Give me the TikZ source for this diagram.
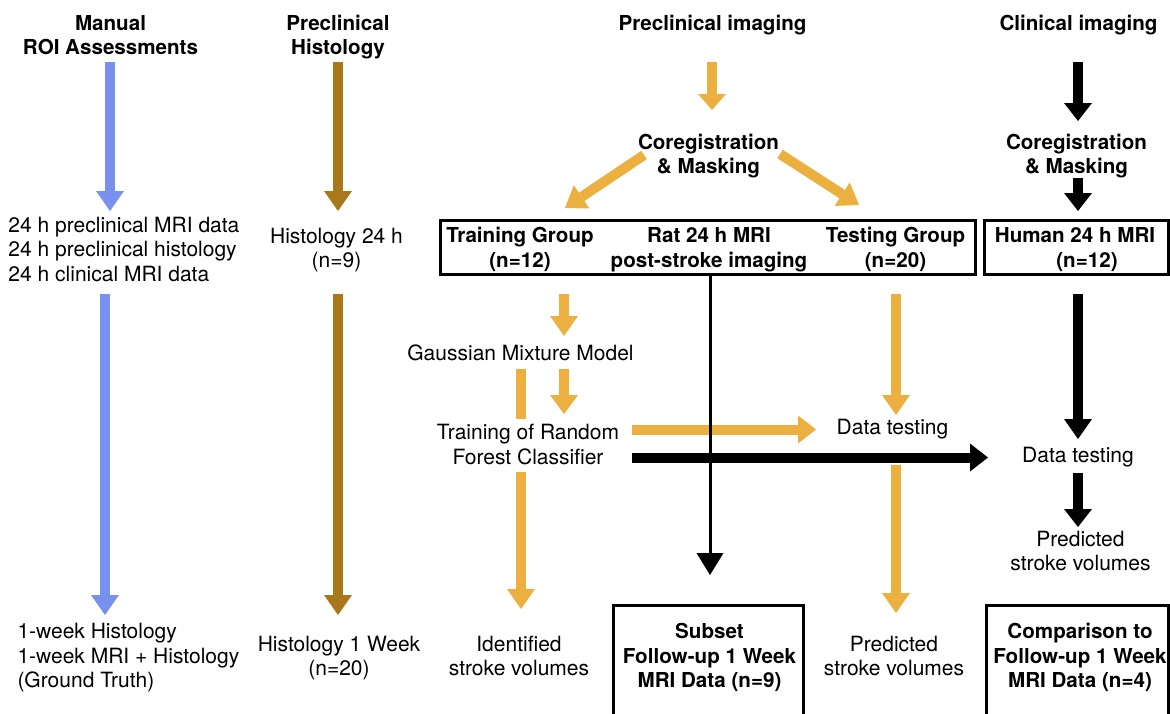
\documentclass[tikz,border=0pt]{standalone}
\usepackage{fontspec}
\setmainfont{TeX Gyre Heros}
\usetikzlibrary{arrows.meta}
\definecolor{oblue}{HTML}{7891EE}
\definecolor{obrown}{HTML}{A8781A}
\definecolor{oorange}{HTML}{ECB040}
\tikzset{
  txt/.style={font=\fontsize{21}{24.5}\selectfont, inner sep=0pt, align=center, anchor=base},
  btxt/.style={font=\fontsize{20.6}{24.5}\selectfont\bfseries, inner sep=0pt, align=center, anchor=base},
  frame/.style={draw=black, line width=3pt, inner sep=0pt, fill=none},
  bigarr/.style={line width=10pt, -{Triangle[width=28pt,length=#1,line width=0pt]}},
  bigarr/.default=20pt,
  thinarr/.style={line width=3pt, -{Triangle[width=27pt,length=22pt,line width=0pt]}}
}
\begin{document}
\begin{tikzpicture}[x=1pt,y=-1pt]
\useasboundingbox (0,0) rectangle (1170,713);

% headers (base anchor = baseline of the last line)
\node[btxt] (hM) at (110.5,54.5) {Manual\\ROI Assessments};
\node[btxt] (hPH) at (338,54.5) {Preclinical\\Histology};
\node[btxt] (hPI) at (712.5,30.5) {Preclinical imaging};
\node[btxt] (hCI) at (1078.5,30.5) {Clinical imaging};
\node[btxt] (coregP) at (708.5,173.5) {Coregistration\\\& Masking};
\node[btxt] (coregC) at (1076.5,173.5) {Coregistration\\\& Masking};

% row 24 h
\node[txt, anchor=base west, align=left] (leftA) at (8.3,281) {24 h preclinical MRI data\\24 h preclinical histology\\24 h clinical MRI data};
\node[txt] (hist24) at (336.5,267.5) {Histology 24 h\\(n=9)};
\node[frame, minimum width=534.5pt, minimum height=54.3pt] (ratbox) at (707.75,247.15) {};
\node[btxt] (trainG) at (520,267.2) {Training Group\\(n=12)};
\node[btxt] (ratT) at (709,267.2) {Rat 24 h MRI\\post-stroke imaging};
\node[btxt] (testG) at (895.5,267.2) {Testing Group\\(n=20)};
\node[frame, minimum width=184pt, minimum height=54.3pt] (humbox) at (1076.5,247.15) {};
\node[btxt] (humT) at (1075,267.2) {Human 24 h MRI\\\hspace*{24pt}(n=12)};

% middle
\node[txt] (gmm) at (520.5,360.7) {Gaussian Mixture Model};
\node[txt] (rf) at (528,464) {Training of Random\\Forest Classifier};
\node[txt] (dtO) at (892.5,434) {Data testing};
\node[txt] (dtB) at (1078,462.3) {Data testing};
\node[txt] (predR) at (1080.5,570.5) {Predicted\\stroke volumes};

% bottom
\node[txt, anchor=base west, align=left] (leftB) at (17.3,687.5) {1-week Histology\\1-week MRI + Histology\\(Ground Truth)};
\node[txt] (hist1w) at (339,675.5) {Histology 1 Week\\(n=20)};
\node[txt] (ident) at (519,675.5) {Identified\\stroke volumes};
\node[txt] (predM) at (894,675.5) {Predicted\\stroke volumes};
\node[frame, minimum width=189.6pt, minimum height=124.2pt] (subbox) at (708.5,667.9) {};
\node[btxt] (subT) at (709.5,687.5) {Subset\\Follow-up 1 Week\\MRI Data (n=9)};
\node[frame, minimum width=181.8pt, minimum height=124.2pt] (cmpbox) at (1077.4,667.9) {};
\node[btxt] (cmpT) at (1080,687.5) {Comparison to\\Follow-up 1 Week\\MRI Data (n=4)};

% connector end points
\coordinate (b1s) at (110,62);   \coordinate (b1e) at (110,211);
\coordinate (r1s) at (338,62);   \coordinate (r1e) at (338,211);
\coordinate (b2s) at (105,294);  \coordinate (b2e) at (105,615);
\coordinate (r2s) at (338,294);  \coordinate (r2e) at (338,615);
\coordinate (o1s) at (712,62);   \coordinate (o1e) at (712,110);
\coordinate (dLs) at (644,155);  \coordinate (dLe) at (565,208);
\coordinate (dRs) at (780,154);  \coordinate (dRe) at (859,205);
\coordinate (k1s) at (1078,62);  \coordinate (k1e) at (1078,121);
\coordinate (k2s) at (1078,178); \coordinate (k2e) at (1078,211);
\coordinate (g1s) at (564,294);  \coordinate (g1e) at (564,336);
\coordinate (lns) at (521,369);  \coordinate (lne) at (521,419);
\coordinate (g2s) at (564,369);  \coordinate (g2e) at (564,414);
\coordinate (g3s) at (521,472);  \coordinate (g3e) at (521,609);
\coordinate (hOs) at (632,429.5); \coordinate (hOe) at (816,429.5);
\coordinate (hKs) at (632,457.5); \coordinate (hKe) at (988,457.5);
\coordinate (t1s) at (896,294);  \coordinate (t1e) at (896,415);
\coordinate (t2s) at (896,465);  \coordinate (t2e) at (896,613);
\coordinate (k3s) at (1078,294); \coordinate (k3e) at (1078,439);
\coordinate (k4s) at (1078,473); \coordinate (k4e) at (1078,527);
\coordinate (vs) at (710,274.3); \coordinate (ve) at (710,575);

% connectors
\draw[bigarr, oblue] (b1s) -- (b1e);
\draw[bigarr, obrown] (r1s) -- (r1e);
\draw[bigarr, oblue] (b2s) -- (b2e);
\draw[bigarr, obrown] (r2s) -- (r2e);
\draw[bigarr=16pt, oorange] (o1s) -- (o1e);
\draw[bigarr, oorange] (dLs) -- (dLe);
\draw[bigarr, oorange] (dRs) -- (dRe);
\draw[bigarr=18pt, black] (k1s) -- (k1e);
\draw[bigarr=18pt, black] (k2s) -- (k2e);
\draw[bigarr, oorange] (g1s) -- (g1e);
\draw[line width=10pt, oorange] (lns) -- (lne);
\draw[bigarr=19pt, oorange] (g2s) -- (g2e);
\draw[bigarr, oorange] (g3s) -- (g3e);
\draw[bigarr=18pt, oorange] (hOs) -- (hOe);
\draw[bigarr=18pt, black] (hKs) -- (hKe);
\draw[bigarr, oorange] (t1s) -- (t1e);
\draw[bigarr, oorange] (t2s) -- (t2e);
\draw[bigarr, black] (k3s) -- (k3e);
\draw[bigarr=18pt, black] (k4s) -- (k4e);
\draw[thinarr, black] (vs) -- (ve);
\end{tikzpicture}
\end{document}
